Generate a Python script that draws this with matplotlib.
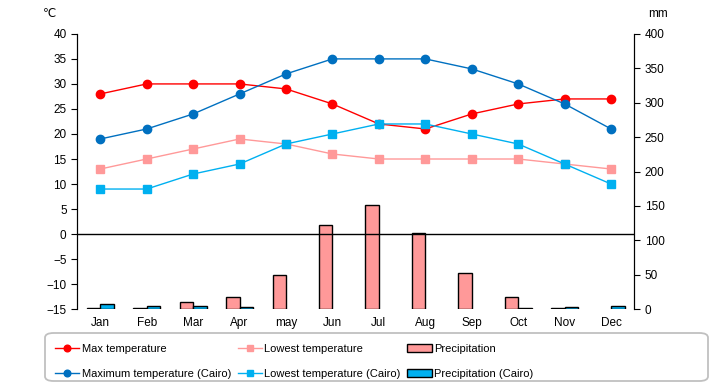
import matplotlib
matplotlib.use("Agg")
import matplotlib.pyplot as plt
from matplotlib.patches import FancyBboxPatch
import numpy as np

months = ['Jan', 'Feb', 'Mar', 'Apr', 'may', 'Jun', 'Jul', 'Aug', 'Sep', 'Oct', 'Nov', 'Dec']
max_temp = [28, 30, 30, 30, 29, 26, 22, 21, 24, 26, 27, 27]
low_temp = [13, 15, 17, 19, 18, 16, 15, 15, 15, 15, 14, 13]
max_cairo = [19, 21, 24, 28, 32, 35, 35, 35, 33, 30, 26, 21]
low_cairo = [9, 9, 12, 14, 18, 20, 22, 22, 20, 18, 14, 10]
precip = [1, 1, 10, 18, 49, 123, 151, 111, 52, 18, 2, 0]
precip_cairo = [7, 4, 4, 3, 0, 0, 0, 0, 0, 1, 3, 5]

plt.rcParams['font.family'] = ['Liberation Sans Narrow', 'Liberation Sans', 'DejaVu Sans']
plt.rcParams['font.size'] = 8.5

fig = plt.figure(figsize=(7.2, 3.85), dpi=100)
ax = fig.add_axes([0.107, 0.197, 0.774, 0.715])
ax2 = ax.twinx()

x = np.arange(len(months))
w = 0.29

# bars on the precipitation axis (no outline where there is no rain)
edges1 = ['black' if v > 0 else 'none' for v in precip]
edges2 = ['black' if v > 0 else 'none' for v in precip_cairo]
ax2.bar(x - w / 2, precip, w, color='#FF9999', edgecolor=edges1, linewidth=1, label='Precipitation')
ax2.bar(x + w / 2, precip_cairo, w, color='#00B0F0', edgecolor=edges2, linewidth=1, label='Precipitation (Cairo)')
ax2.set_ylim(0, 400)
ax2.set_yticks(range(0, 401, 50))
ax2.patch.set_facecolor('#FFFFCC')

# temperature lines above the bars
ax.set_zorder(ax2.get_zorder() + 1)
ax.patch.set_visible(False)
ax.axhline(0, color='black', linewidth=1)
ax.plot(x, max_temp, color='#FF0000', marker='o', markersize=6, linewidth=1, label='Max temperature')
ax.plot(x, max_cairo, color='#0070C0', marker='o', markersize=6, linewidth=1, label='Maximum temperature (Cairo)')
ax.plot(x, low_temp, color='#FF9999', marker='s', markersize=6, linewidth=1, label='Lowest temperature')
ax.plot(x, low_cairo, color='#00B0F0', marker='s', markersize=6, linewidth=1, label='Lowest temperature (Cairo)')
ax.set_ylim(-15, 40)
ax.set_yticks(range(-15, 41, 5))
ax.set_xlim(-0.5, 11.5)
ax.set_xticks(x)
ax.set_xticklabels(months)
ax.tick_params(axis='x', length=0, pad=6)
ax.tick_params(axis='y', direction='out', length=4)
ax2.tick_params(axis='y', direction='out', length=4)

for a in (ax, ax2):
    a.spines['top'].set_visible(False)
    a.spines['bottom'].set_visible(False)
    a.spines['left'].set_color('black')
    a.spines['right'].set_color('black')

fig.text(0.060, 0.955, '℃', fontsize=8.5, family='DejaVu Sans')
fig.text(0.900, 0.955, 'mm', fontsize=8.5)

# legend box
box = FancyBboxPatch((45 / 720, 4 / 385), 663 / 720, 48 / 385, transform=fig.transFigure,
                     boxstyle='round,pad=0,rounding_size=0.012', facecolor='white',
                     edgecolor='#C0C0C0', linewidth=1.3)
fig.patches.append(box)

h1, l1 = ax.get_legend_handles_labels()
h2, l2 = ax2.get_legend_handles_labels()
leg = fig.legend(h1 + h2, l1 + l2, ncol=3, loc='upper left',
                 bbox_to_anchor=(46 / 720, 1 - 335 / 385),
                 fontsize=8, frameon=False,
                 handlelength=2.2, handletextpad=0.2, labelspacing=1.35,
                 columnspacing=0.6, borderpad=0.3, markerscale=0.8)

fig.savefig('out.png', dpi=100)
